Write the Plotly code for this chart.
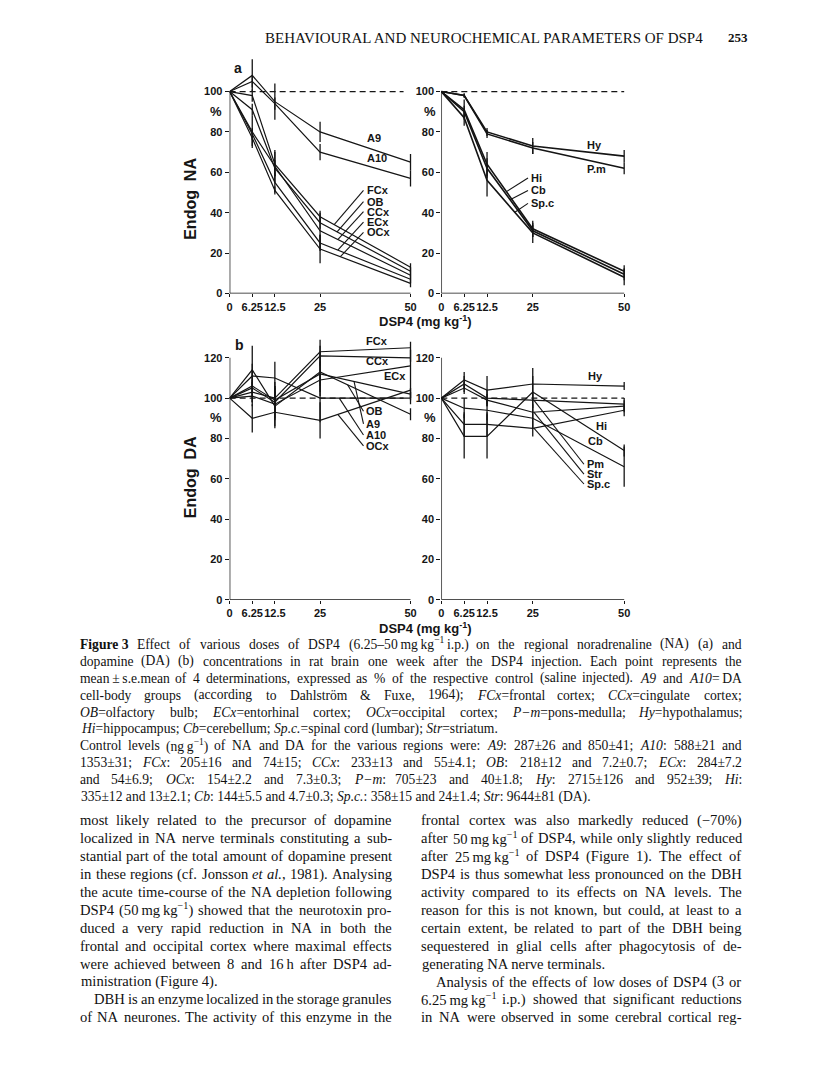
import re
import plotly.graph_objects as go

# the page body has an 8px margin, so the figure sits at (8, 8) in the window
PAGE_W, PAGE_H = 816, 1091
OFF = 8
W, H = PAGE_W - OFF, PAGE_H - OFF

# ---------------- data ----------------
DOSE = [0, 6.25, 12.5, 25, 50]
DOSE_LABELS = ["0", "6.25", "12.5", "25", "50"]
NA_TICKS = [0, 20, 40, 60, 80, 100]
DA_TICKS = [0, 20, 40, 60, 80, 100, 120]

# panel a, left: NA in DA cell bodies and cortex (% of control)
NA_A9 = [100, 108, 95, 80, 65]
NA_A9_SE = [0, 8, 9, 5, 4]
NA_A10 = [100, 105, 94, 70, 57]
NA_A10_SE = [0, 3, 3, 4, 4]
NA_FCX = [100, 98, 64, 38, 13]
NA_FCX_SE = [0, 3, 6, 3, 2]
NA_OB = [100, 91, 62, 35, 11]
NA_OB_SE = [0, 3, 4, 3, 2]
NA_CCX = [100, 80, 63, 31, 9]
NA_CCX_SE = [0, 8, 8, 9, 2]
NA_ECX = [100, 79, 55, 25, 7]
NA_ECX_SE = [0, 3, 5, 4, 2]
NA_OCX = [100, 77, 51, 22, 5]
NA_OCX_SE = [0, 4, 2, 7, 2]

# panel a, right
NA_HY = [100, 98, 80, 73, 68]
NA_HY_SE = [0, 1, 2, 4, 3]
NA_PM = [100, 98, 79, 72, 62]
NA_PM_SE = [0, 1, 2, 3, 3]
NA_HI = [100, 91, 64, 32, 11]
NA_HI_SE = [0, 5, 6, 4, 3]
NA_CB = [100, 90, 62, 31, 9.5]
NA_CB_SE = [0, 3, 5, 3, 3]
NA_SPC = [100, 87, 56, 30, 8]
NA_SPC_SE = [0, 4, 8, 5, 4]

# panel b, left: DA
DA_FCX = [100, 103, 100, 123, 125]
DA_FCX_SE = [0, 5, 6, 6, 3]
DA_CCX = [100, 105, 98, 121, 120]
DA_CCX_SE = [0, 4, 5, 5, 2]
DA_ECX = [100, 101, 97, 109, 116]
DA_ECX_SE = [0, 5, 8, 8, 8]
DA_OB = [100, 114, 96, 113, 92]
DA_OB_SE = [0, 12, 10, 10, 3]
DA_A9 = [100, 106, 99, 112, 102]
DA_A9_SE = [0, 8, 9, 6, 3]
DA_A10 = [100, 111, 110, 100, 100]
DA_A10_SE = [0, 6, 8, 12, 3]
DA_OCX = [100, 90, 93, 89, 104]
DA_OCX_SE = [0, 7, 8, 9, 4]

# panel b, right
DA_HY = [100, 109, 104, 107, 106]
DA_HY_SE = [0, 4, 7, 8, 2]
DA_PM = [100, 107, 100, 99, 97]
DA_PM_SE = [0, 4, 4, 4, 3]
DA_STR = [100, 105, 99, 93, 96]
DA_STR_SE = [0, 3, 3, 4, 3]
DA_SPC = [100, 87, 87, 85, 94]
DA_SPC_SE = [0, 6, 6, 4, 3]
DA_CB = [100, 95, 94, 90, 66]
DA_CB_SE = [0, 5, 5, 5, 10]
DA_HI = [100, 81, 81, 103, 74]
DA_HI_SE = [0, 11, 11, 8, 3]

INK = "#151515"
SANS = "Liberation Sans"
SERIF = "Liberation Serif"


def px(x):
    # page pixel -> paper fraction
    return (x - OFF) / W


def py(y):
    return 1 - (y - OFF) / H


def interp(ys, x):
    for i in range(len(DOSE) - 1):
        if DOSE[i] <= x <= DOSE[i + 1]:
            t = (x - DOSE[i]) / (DOSE[i + 1] - DOSE[i])
            return ys[i] + t * (ys[i + 1] - ys[i])
    return ys[-1]


fig = go.Figure()

# panel geometry in page pixels: origin, px per unit, y max shown, axis top
panels = {
    "1": dict(x0=228, sx=3.64, y0=295, sy=2.03, ymax=118, top=100),
    "2": dict(x0=441, sx=3.68, y0=295, sy=2.03, ymax=118, top=100),
    "3": dict(x0=228, sx=3.64, y0=603, sy=2.027, ymax=132, top=120),
    "4": dict(x0=441, sx=3.68, y0=603, sy=2.027, ymax=132, top=120),
}

series = {
    "1": [(NA_A9, NA_A9_SE), (NA_A10, NA_A10_SE), (NA_FCX, NA_FCX_SE), (NA_OB, NA_OB_SE),
          (NA_CCX, NA_CCX_SE), (NA_ECX, NA_ECX_SE), (NA_OCX, NA_OCX_SE)],
    "2": [(NA_HY, NA_HY_SE), (NA_PM, NA_PM_SE), (NA_HI, NA_HI_SE), (NA_CB, NA_CB_SE),
          (NA_SPC, NA_SPC_SE)],
    "3": [(DA_FCX, DA_FCX_SE), (DA_CCX, DA_CCX_SE), (DA_ECX, DA_ECX_SE), (DA_OB, DA_OB_SE),
          (DA_A9, DA_A9_SE), (DA_A10, DA_A10_SE), (DA_OCX, DA_OCX_SE)],
    "4": [(DA_HY, DA_HY_SE), (DA_PM, DA_PM_SE), (DA_STR, DA_STR_SE), (DA_SPC, DA_SPC_SE),
          (DA_CB, DA_CB_SE), (DA_HI, DA_HI_SE)],
}

for k, lst in series.items():
    xa = "x" if k == "1" else "x" + k
    ya = "y" if k == "1" else "y" + k
    lw = 1.6 if k == "2" else 1.2
    for vals, se in lst:
        fig.add_trace(go.Scatter(
            x=DOSE, y=vals, xaxis=xa, yaxis=ya, mode="lines",
            line=dict(color=INK, width=lw),
            error_y=dict(type="data", array=se, visible=True, width=0,
                         thickness=1.3, color=INK),
            hoverinfo="skip", showlegend=False,
        ))

layout_axes = {}
for k, p in panels.items():
    xname = "xaxis" if k == "1" else "xaxis" + k
    yname = "yaxis" if k == "1" else "yaxis" + k
    xd = [px(p["x0"]), px(p["x0"] + 51 * p["sx"])]
    yd = [py(p["y0"]), py(p["y0"] - p["ymax"] * p["sy"])]
    layout_axes[xname] = dict(
        domain=xd, range=[0, 51], anchor="y" if k == "1" else "y" + k,
        showgrid=False, zeroline=False, showline=False,
        tickvals=DOSE, ticktext=DOSE_LABELS, tickangle=0, ticks="outside", ticklen=3,
        tickwidth=1.2, tickcolor=INK,
        tickfont=dict(family=SANS, size=11, color=INK, weight="bold"),
    )
    layout_axes[yname] = dict(
        domain=yd, range=[0, p["ymax"]], anchor="x" if k == "1" else "x" + k,
        showgrid=False, zeroline=False, showline=False,
        tickvals=NA_TICKS if k in ("1", "2") else DA_TICKS,
        ticks="outside", ticklen=4, tickwidth=1.2, tickcolor=INK,
        tickfont=dict(family=SANS, size=11, color=INK, weight="bold"),
    )

fig.update_layout(**layout_axes)

shapes = []
for k, p in panels.items():
    xr = "x" if k == "1" else "x" + k
    yr = "y" if k == "1" else "y" + k
    shapes.append(dict(type="line", xref=xr, yref=yr, x0=0, x1=0, y0=0, y1=p["top"],
                       line=dict(color=INK, width=1.4)))
    shapes.append(dict(type="line", xref=xr, yref=yr, x0=0, x1=50, y0=0, y1=0,
                       line=dict(color=INK, width=1.4)))

# dashed control (100 %) lines
for ya, yb, xb in (("y", "y2", "x2"), ("y3", "y4", "x4")):
    shapes.append(dict(type="line", xref="paper", yref=ya, x0=px(228), x1=px(403),
                       y0=100, y1=100, line=dict(color=INK, width=1.3, dash="6px,4px")))
    shapes.append(dict(type="line", xref=xb, yref=yb, x0=0, x1=50,
                       y0=100, y1=100, line=dict(color=INK, width=1.3, dash="6px,4px")))

annots = []


def label(xref, yref, x, y, text, size=11):
    annots.append(dict(xref=xref, yref=yref, x=x, y=y, text=text, showarrow=False,
                       xanchor="left", yanchor="middle",
                       font=dict(family=SANS, size=size, color=INK, weight="bold")))


def page_text(x, y, text, size, angle=0):
    annots.append(dict(xref="paper", yref="paper", x=px(x), y=py(y), text=text,
                       showarrow=False, xanchor="center", yanchor="middle", textangle=angle,
                       font=dict(family=SANS, size=size, color=INK, weight="bold")))


def leader(xref, yref, x0, y0, x1, y1):
    shapes.append(dict(type="line", xref=xref, yref=yref, x0=x0, y0=y0, x1=x1, y1=y1,
                       line=dict(color=INK, width=1.1)))


# panel a left labels
label("x", "y", 37.5, 77, "A9")
label("x", "y", 37.5, 67, "A10")
for name, vals, ly, ex in (("FCx", NA_FCX, 51, 28.9), ("OB", NA_OB, 45.5, 29.7),
                           ("CCx", NA_CCX, 40.5, 29.9), ("ECx", NA_ECX, 35.3, 29.9),
                           ("OCx", NA_OCX, 30.2, 30.6)):
    label("x", "y", 37.3, ly, name)
    leader("x", "y", 37.0, ly, ex, interp(vals, ex))

# panel a right labels
label("x2", "y2", 39.3, 73.5, "Hy")
label("x2", "y2", 39.3, 61.5, "P.m")
for name, vals, ly, ex in (("Hi", NA_HI, 57.2, 17.8), ("Cb", NA_CB, 51.0, 18.8),
                           ("Sp.c", NA_SPC, 44.6, 20.1)):
    label("x2", "y2", 23.9, ly, name)
    leader("x2", "y2", 23.7, ly, ex, interp(vals, ex))

# panel b left labels
label("x3", "y3", 37.2, 128.2, "FCx")
label("x3", "y3", 37.2, 118.2, "CCx")
label("x3", "y3", 42.2, 110.8, "ECx")
for name, vals, ly, ex in (("OB", DA_OB, 93.5, 32.6), ("A9", DA_A9, 87.2, 34.4),
                           ("A10", DA_A10, 81.7, 30.3), ("OCx", DA_OCX, 76.3, 29.9)):
    label("x3", "y3", 37.2, ly, name)
    leader("x3", "y3", 37.0, ly, ex, interp(vals, ex))

# panel b right labels
label("x4", "y4", 39.6, 111.0, "Hy")
label("x4", "y4", 41.8, 86.2, "Hi")
label("x4", "y4", 39.6, 78.8, "Cb")
for name, vals, ly in (("Pm", DA_PM, 67.2), ("Str", DA_STR, 62.3), ("Sp.c", DA_SPC, 57.4)):
    label("x4", "y4", 39.2, ly, name)
    leader("x4", "y4", 39.0, ly, 25.3, interp(vals, 25.3))

# figure furniture
for x, y in ((214, 112), (430, 112), (214, 420), (430, 420)):
    page_text(x, y, "%", 13)
page_text(236, 68, "a", 14)
page_text(238, 347, "b", 14)
page_text(425, 323, "DSP4 (mg kg<sup>-1</sup>)", 13)
page_text(425, 631, "DSP4 (mg kg<sup>-1</sup>)", 13)
page_text(189, 200, "Endog  NA", 16, angle=-90)
page_text(189, 480, "Endog  DA", 16, angle=-90)

# ---------------- page text ----------------
TIMES = {
    " ": 250, "a": 444, "b": 500, "c": 444, "d": 500, "e": 444, "f": 333, "g": 500,
    "h": 500, "i": 278, "j": 278, "k": 500, "l": 278, "m": 778, "n": 500, "o": 500,
    "p": 500, "q": 500, "r": 333, "s": 389, "t": 278, "u": 500, "v": 500, "w": 722,
    "x": 500, "y": 500, "z": 444, "A": 722, "B": 667, "C": 667, "D": 722, "E": 611,
    "F": 556, "G": 722, "H": 722, "I": 333, "J": 389, "K": 722, "L": 611, "M": 889,
    "N": 722, "O": 722, "P": 556, "Q": 722, "R": 667, "S": 556, "T": 611, "U": 722,
    "V": 722, "W": 944, "X": 722, "Y": 722, "Z": 611, ".": 250, ",": 250, "(": 333,
    ")": 333, "-": 333, ";": 278, ":": 278, "%": 833, "±": 564, "=": 564, "&": 778,
    "−": 564, "–": 500, "ö": 500, "\u2009": 167, "\u00a0": 250,
}


def est_width(text, size):
    w, scale = 0.0, 1.0
    for tok in re.split(r"(<[^>]+>)", text):
        if tok.startswith("<"):
            scale = 0.7 if tok == "<sup>" else (1.0 if tok == "</sup>" else scale)
            continue
        for ch in tok.replace("&amp;", "&"):
            w += TIMES.get(ch, 500) * scale
    return w * size / 1000


def text_line(text, x0, x1, y, size, justify=True, indent=0):
    words = text.split(" ")
    font = dict(family=SERIF, size=size, color="#111111")
    if not justify or len(words) == 1:
        annots.append(dict(xref="paper", yref="paper", x=px(x0 + indent), y=py(y), text=text,
                           showarrow=False, xanchor="left", yanchor="middle", font=font))
        return
    widths = [est_width(w, size) for w in words]
    gap = max((x1 - x0 - indent - sum(widths)) / (len(words) - 1), 0.15 * size)
    x = x0 + indent
    for word, wd in zip(words, widths):
        annots.append(dict(xref="paper", yref="paper", x=px(x), y=py(y), text=word,
                           showarrow=False, xanchor="left", yanchor="middle", font=font,
                           borderpad=0))
        x += wd + gap


HEADER = "BEHAVIOURAL AND NEUROCHEMICAL PARAMETERS OF DSP4"
hsize = 443 / est_width(HEADER, 1)
annots.append(dict(xref="paper", yref="paper", x=px(262), y=py(38), text=HEADER,
                   showarrow=False, xanchor="left", yanchor="middle",
                   font=dict(family=SERIF, size=hsize, color="#111111")))
annots.append(dict(xref="paper", yref="paper", x=px(752), y=py(38), text="253",
                   showarrow=False, xanchor="right", yanchor="middle",
                   font=dict(family=SERIF, size=13, color="#111111", weight="bold")))

CAPTION = [
    ("<b>Figure\u00a03</b>\u00a0 Effect of various doses of DSP4 (6.25–50\u2009mg\u2009kg<sup>−1</sup>\u2009i.p.) on the regional noradrenaline (NA) (a) and", True),
    ("dopamine (DA) (b) concentrations in rat brain one week after the DSP4 injection. Each point represents the", True),
    ("mean\u2009±\u2009s.e.mean of 4 determinations, expressed as % of the respective control (saline injected). <i>A9</i> and <i>A10</i>=\u2009DA", True),
    ("cell-body groups (according to Dahlström &amp; Fuxe, 1964); <i>FCx</i>=frontal cortex; <i>CCx</i>=cingulate cortex;", True),
    ("<i>OB</i>=olfactory bulb; <i>ECx</i>=entorhinal cortex; <i>OCx</i>=occipital cortex; <i>P−m</i>=pons-medulla; <i>Hy</i>=hypothalamus;", True),
    ("<i>Hi</i>=hippocampus; <i>Cb</i>=cerebellum; <i>Sp.c.</i>=spinal cord (lumbar); <i>Str</i>=striatum.", False),
    ("Control levels (ng\u2009g<sup>−1</sup>) of NA and DA for the various regions were: <i>A9</i>: 287±26 and 850±41; <i>A10</i>: 588±21 and", True),
    ("1353±31; <i>FCx</i>: 205±16 and 74±15; <i>CCx</i>: 233±13 and 55±4.1; <i>OB</i>: 218±12 and 7.2±0.7; <i>ECx</i>: 284±7.2", True),
    ("and 54±6.9; <i>OCx</i>: 154±2.2 and 7.3±0.3; <i>P−m</i>: 705±23 and 40±1.8; <i>Hy</i>: 2715±126 and 952±39; <i>Hi</i>:", True),
    ("335±12 and 13±2.1; <i>Cb</i>: 144±5.5 and 4.7±0.3; <i>Sp.c.</i>: 358±15 and 24±1.4; <i>Str</i>: 9644±81 (DA).", False),
]
for i, (t, j) in enumerate(CAPTION):
    text_line(t, 76, 742, 648 + 17 * i, 13.6, justify=j)

LEFT_COL = [
    ("most likely related to the precursor of dopamine", True, 0),
    ("localized in NA nerve terminals constituting a sub-", True, 0),
    ("stantial part of the total amount of dopamine present", True, 0),
    ("in these regions (cf. Jonsson <i>et</i> <i>al.</i>, 1981). Analysing", True, 0),
    ("the acute time-course of the NA depletion following", True, 0),
    ("DSP4 (50\u2009mg\u2009kg<sup>−1</sup>) showed that the neurotoxin pro-", True, 0),
    ("duced a very rapid reduction in NA in both the", True, 0),
    ("frontal and occipital cortex where maximal effects", True, 0),
    ("were achieved between 8 and 16\u2009h after DSP4 ad-", True, 0),
    ("ministration (Figure 4).", False, 0),
    ("DBH is an enzyme localized in the storage granules", True, 15),
    ("of NA neurones. The activity of this enzyme in the", True, 0),
]
RIGHT_COL = [
    ("frontal cortex was also markedly reduced (−70%)", True, 0),
    ("after 50\u2009mg\u2009kg<sup>−1</sup> of DSP4, while only slightly reduced", True, 0),
    ("after 25\u2009mg\u2009kg<sup>−1</sup> of DSP4 (Figure 1). The effect of", True, 0),
    ("DSP4 is thus somewhat less pronounced on the DBH", True, 0),
    ("activity compared to its effects on NA levels. The", True, 0),
    ("reason for this is not known, but could, at least to a", True, 0),
    ("certain extent, be related to part of the DBH being", True, 0),
    ("sequestered in glial cells after phagocytosis of de-", True, 0),
    ("generating NA nerve terminals.", False, 0),
    ("Analysis of the effects of low doses of DSP4 (3 or", True, 15),
    ("6.25\u2009mg\u2009kg<sup>−1</sup> i.p.) showed that significant reductions", True, 0),
    ("in NA were observed in some cerebral cortical reg-", True, 0),
]
for i, (t, j, ind) in enumerate(LEFT_COL):
    text_line(t, 76, 390, 825 + 18 * i, 14.6, justify=j, indent=ind)
for i, (t, j, ind) in enumerate(RIGHT_COL):
    text_line(t, 420, 742, 825 + 18 * i, 14.6, justify=j, indent=ind)

fig.update_layout(
    width=W, height=H, margin=dict(l=0, r=0, t=0, b=0),
    paper_bgcolor="white", plot_bgcolor="white", showlegend=False,
    shapes=shapes, annotations=annots,
)

fig.write_html("out.html")
